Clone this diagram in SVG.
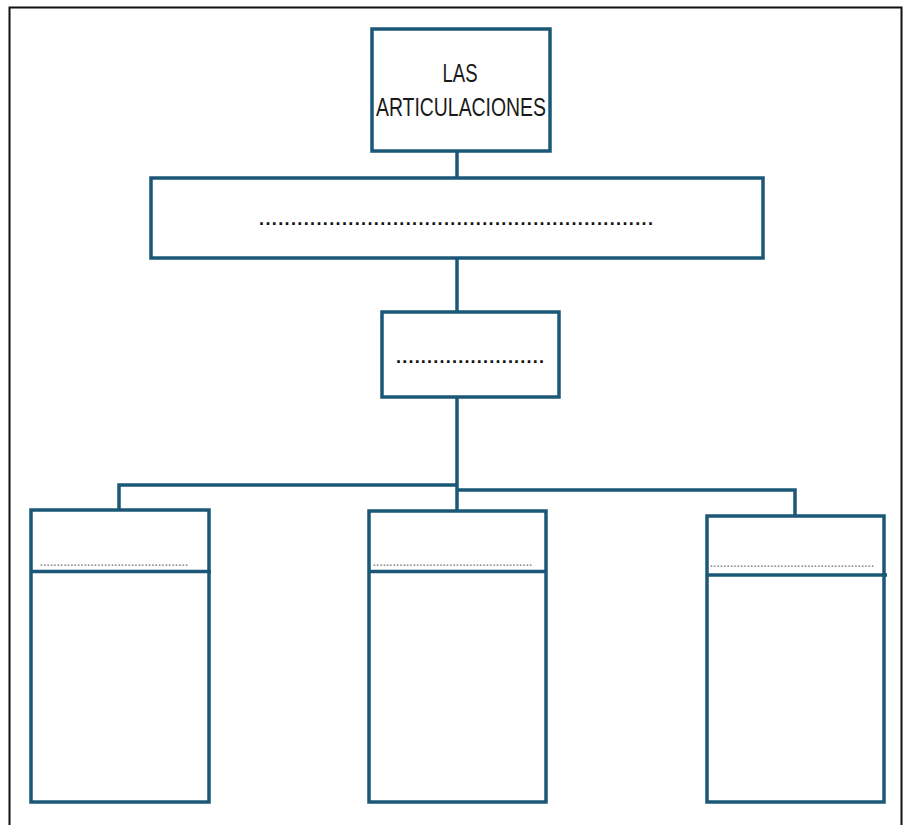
<svg xmlns="http://www.w3.org/2000/svg" width="910" height="825" viewBox="0 0 910 825">
<style>
.box{fill:#fff;stroke:#1b5877;stroke-width:3.5}
.ln{stroke:#1b5877;stroke-width:3.5;fill:none}
.t{font-family:"Liberation Sans",Arial,sans-serif;fill:#1a1a1a}
.d{font-family:"Liberation Sans",Arial,sans-serif;fill:#111;font-size:18px;font-weight:bold}
.g{font-family:"Liberation Sans",Arial,sans-serif;fill:#8a8a8a;font-size:10px;font-weight:bold}
</style>
<rect x="0" y="0" width="910" height="825" fill="#fff"/>
<path d="M9.5 826 V7.5 H901.5 V826" fill="none" stroke="#111" stroke-width="2"/>
<g id="connectors">
<line class="ln" x1="457" y1="151" x2="457" y2="178"/>
<line class="ln" x1="457" y1="258" x2="457" y2="312"/>
<line class="ln" x1="457" y1="397" x2="457" y2="511"/>
<polyline class="ln" points="119,510 119,485 457,485"/>
<polyline class="ln" points="457,490 795,490 795,516"/>
</g>
<g id="title">
<rect class="box" x="372" y="29" width="178" height="122"/>
<text class="t" x="460" y="82" font-size="26.5" text-anchor="middle" textLength="35" lengthAdjust="spacingAndGlyphs">LAS</text>
<text class="t" x="461" y="116" font-size="26.5" text-anchor="middle" textLength="170" lengthAdjust="spacingAndGlyphs">ARTICULACIONES</text>
</g>
<g id="level1">
<rect class="box" x="151" y="178" width="612" height="80"/>
<text class="d" x="259" y="225" textLength="394" lengthAdjust="spacing">..............................................................</text>
</g>
<g id="level2">
<rect class="box" x="382" y="312" width="177" height="85"/>
<text class="d" x="396" y="363" textLength="148" lengthAdjust="spacing">........................</text>
</g>
<g id="left">
<rect class="box" x="31" y="510" width="178" height="292"/>
<line class="ln" x1="31" y1="571.5" x2="211" y2="571.5"/>
<text class="g" x="40" y="566" textLength="148" lengthAdjust="spacing">............................................</text>
</g>
<g id="middle">
<rect class="box" x="369" y="511" width="177" height="291"/>
<line class="ln" x1="369" y1="571.5" x2="546" y2="571.5"/>
<text class="g" x="373" y="566" textLength="159" lengthAdjust="spacing">................................................</text>
</g>
<g id="right">
<rect class="box" x="707" y="516" width="177" height="286"/>
<line class="ln" x1="707" y1="575" x2="887" y2="575"/>
<text class="g" x="710" y="567" textLength="164" lengthAdjust="spacing">.................................................</text>
</g>
</svg>
